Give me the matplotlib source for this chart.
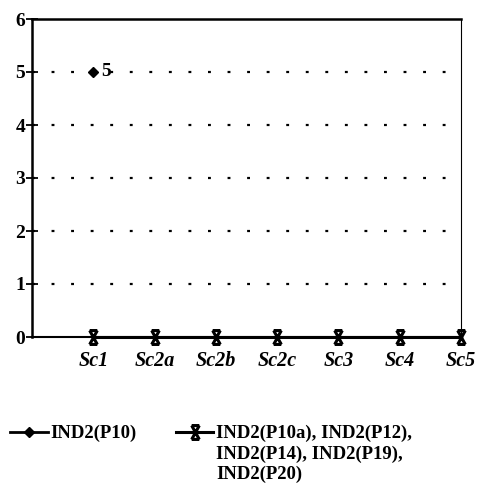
import matplotlib
matplotlib.use("Agg")
import matplotlib.pyplot as plt
import numpy as np
from matplotlib.path import Path

categories = ["Sc1", "Sc2a", "Sc2b", "Sc2c", "Sc3", "Sc4", "Sc5"]
p10_values = [5, None, None, None, None, None, None]
others_values = [0, 0, 0, 0, 0, 0, 0]
yticks = [0, 1, 2, 3, 4, 5, 6]
label_p10 = "IND2(P10)"
label_others = "IND2(P10a), IND2(P12),\nIND2(P14), IND2(P19),\nIND2(P20)"

plt.rcParams['font.family'] = ['Liberation Serif', 'DejaVu Serif']

fig = plt.figure(figsize=(4.79, 4.93), dpi=100)
ax = fig.add_axes([32/479, 1-337/493, (461-32)/479, (337-19)/493])

x = np.arange(1, len(categories) + 1)

w = 0.55
star = Path([(-w, 1), (w, -1), (-w, -1), (w, 1), (-w, 1), (w, 1), (-w, -1), (w, -1)],
            [Path.MOVETO, Path.LINETO, Path.MOVETO, Path.LINETO,
             Path.MOVETO, Path.LINETO, Path.MOVETO, Path.LINETO])

p10 = np.array([np.nan if v is None else v for v in p10_values], dtype=float)
ax.plot(x, others_values, color='black', lw=2.2, marker=star, ms=10, mew=2.2,
        clip_on=False, zorder=4, label=label_others)
ax.plot(x, p10, color='black', lw=2, marker='D', ms=5.5, clip_on=False,
        zorder=5, label=label_p10)
for xi, v in zip(x, p10_values):
    if v is not None:
        ax.text(xi + 0.13, v, f"{v:g}", ha='left', va='center',
                fontsize=14, fontweight='bold')

ax.set_xlim(0, 7)
ax.set_ylim(0, 6)
ax.set_yticks(yticks)
ax.set_yticklabels([str(t) for t in yticks], fontsize=14, fontweight='bold')
ax.set_xticks(x)
ax.set_xticklabels(categories, fontsize=14.5, fontweight='bold', style='italic')
ax.tick_params(axis='x', length=0, pad=10)
ax.tick_params(axis='y', direction='inout', length=8, width=1.3, pad=1)

for yv in yticks[1:-1]:
    ax.axhline(yv, color='black', lw=1.6, ls=(0, (1.3, 7.5)), zorder=1)

ax.spines['left'].set_linewidth(1.8)
ax.spines['top'].set_linewidth(1.8)
ax.spines['bottom'].set_linewidth(1.5)
ax.spines['right'].set_linewidth(0.8)
ax.spines['right'].set_linestyle((0, (3, 1)))

h, l = ax.get_legend_handles_labels()
leg = fig.legend(h[::-1], l[::-1], loc='upper left', bbox_to_anchor=(10/479, 1-425/493),
                 ncol=2, frameon=False, handlelength=2.0, handletextpad=0.15,
                 columnspacing=2.1, prop={'size': 13.5, 'weight': 'bold'},
                 labelspacing=0.2, borderaxespad=0, borderpad=0)
for t in leg.get_texts():
    t.set_linespacing(1.22)
hb = leg._legend_handle_box
hb.align = "top"
for col in hb.get_children():
    for item in col.get_children():
        item.align = "top"

fig.savefig("out.png", dpi=100)
